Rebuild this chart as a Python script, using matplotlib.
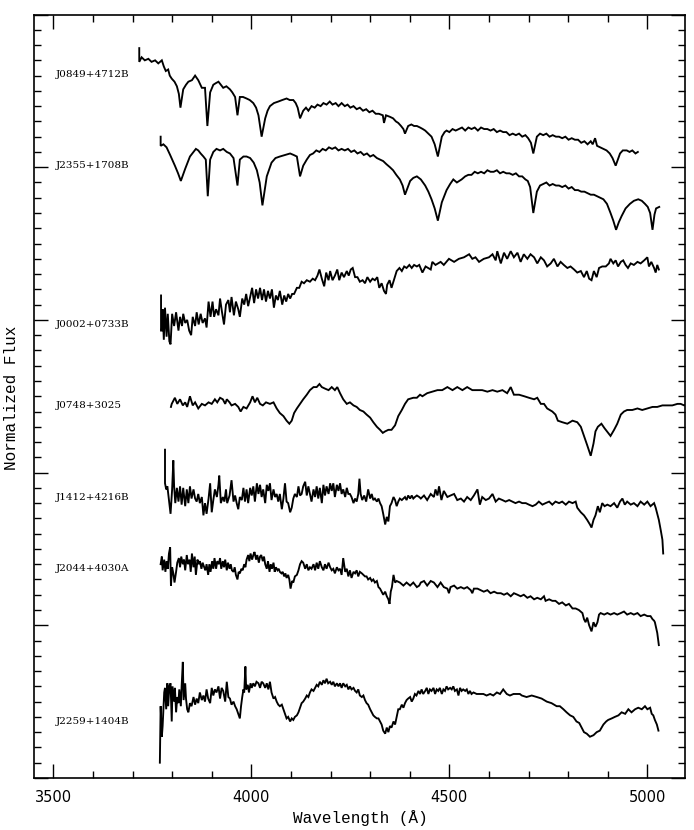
import numpy as np
import matplotlib
matplotlib.use("Agg")
import matplotlib.pyplot as plt
from matplotlib.ticker import MultipleLocator

# ---------------- data: (wavelength [A], normalized flux + offset) ----------------
names = ["J0849+4712B", "J2355+1708B", "J0002+0733B", "J0748+3025",
         "J1412+4216B", "J2044+4030A", "J2259+1404B"]
label_y = [4.61, 4.01, 2.97, 2.44, 1.84, 1.37, 0.37]

j0849 = [(3717,4.78),(3717,4.69),(3723,4.72),(3731,4.70),(3740,4.71),(3748,4.69),(3757,4.70),(3765,4.68),
         (3774,4.70),(3779,4.66),(3784,4.63),(3790,4.64),(3794,4.60),(3799,4.58),(3806,4.56),(3812,4.53),
         (3817,4.48),(3821,4.39),(3828,4.51),(3835,4.54),(3841,4.56),(3850,4.57),(3858,4.60),(3866,4.57),
         (3875,4.52),(3883,4.52),(3889,4.27),(3896,4.49),(3904,4.54),(3910,4.55),(3917,4.56),(3923,4.54),
         (3929,4.52),(3937,4.53),(3946,4.51),(3952,4.49),(3959,4.46),(3965,4.34),(3971,4.46),(3979,4.46),
         (3988,4.45),(3996,4.44),(4005,4.42),(4012,4.39),(4018,4.34),(4026,4.20),(4035,4.32),(4041,4.37),
         (4047,4.40),(4057,4.42),(4068,4.43),(4078,4.44),(4089,4.45),(4097,4.44),(4106,4.44),(4112,4.42),
         (4117,4.39),(4123,4.32),(4131,4.37),(4138,4.39),(4144,4.37),(4152,4.40),(4160,4.39),(4167,4.41),
         (4175,4.40),(4182,4.42),(4190,4.41),(4198,4.43),(4205,4.41),(4213,4.42),(4220,4.40),(4228,4.42),
         (4236,4.40),(4243,4.41),(4250,4.39),(4258,4.40),(4266,4.38),(4274,4.39),(4282,4.37),(4290,4.38),
         (4298,4.36),(4306,4.37),(4314,4.35),(4322,4.35),(4332,4.34),(4335,4.29),(4340,4.34),(4350,4.33),
         (4358,4.32),(4365,4.30),(4371,4.29),(4378,4.27),(4384,4.25),(4388,4.22),(4396,4.27),(4404,4.28),
         (4411,4.27),(4418,4.27),(4426,4.26),(4433,4.25),(4439,4.24),(4447,4.22),(4455,4.20),(4463,4.15),
         (4471,4.07),(4481,4.20),(4488,4.23),(4493,4.24),(4500,4.23),(4508,4.25),(4516,4.24),(4524,4.25),
         (4532,4.26),(4540,4.24),(4548,4.26),(4556,4.25),(4564,4.26),(4572,4.24),(4580,4.26),(4588,4.25),
         (4596,4.25),(4604,4.24),(4612,4.25),(4620,4.23),(4628,4.24),(4636,4.23),(4644,4.23),(4652,4.21),
         (4660,4.22),(4668,4.21),(4676,4.22),(4684,4.20),(4692,4.21),(4699,4.19),(4706,4.16),(4712,4.09),
         (4721,4.20),(4729,4.22),(4737,4.21),(4745,4.22),(4753,4.20),(4761,4.21),(4769,4.20),(4777,4.20),
         (4785,4.19),(4793,4.20),(4801,4.18),(4809,4.19),(4817,4.18),(4825,4.18),(4833,4.16),(4841,4.17),
         (4849,4.15),(4857,4.17),(4862,4.15),(4868,4.19),(4873,4.14),(4881,4.13),(4889,4.12),(4897,4.11),
         (4905,4.09),(4912,4.06),(4920,4.01),(4931,4.09),(4938,4.11),(4948,4.11),(4955,4.10),(4962,4.11),
         (4970,4.09),(4976,4.10)]

j2355 = [(3771,4.20),(3771,4.14),(3778,4.15),(3786,4.13),(3795,4.08),(3807,4.01),(3815,3.96),(3822,3.91),
         (3833,3.99),(3845,4.07),(3854,4.10),(3860,4.12),(3866,4.11),(3872,4.09),(3879,4.07),(3885,4.05),
         (3890,3.81),(3896,4.05),(3904,4.10),(3912,4.12),(3921,4.11),(3929,4.12),(3938,4.10),(3946,4.09),
         (3955,4.06),(3965,3.88),(3971,4.05),(3980,4.07),(3988,4.07),(3997,4.06),(4006,4.03),(4014,3.98),
         (4021,3.90),(4028,3.75),(4039,3.94),(4051,4.03),(4061,4.06),(4072,4.07),(4085,4.08),(4098,4.09),
         (4107,4.08),(4115,4.07),(4123,3.94),(4131,4.01),(4140,4.05),(4148,4.08),(4156,4.09),(4164,4.11),
         (4172,4.10),(4180,4.12),(4188,4.11),(4196,4.13),(4204,4.12),(4212,4.13),(4220,4.11),(4228,4.12),
         (4236,4.11),(4244,4.12),(4252,4.10),(4260,4.11),(4268,4.09),(4276,4.10),(4284,4.08),(4292,4.09),
         (4300,4.07),(4308,4.08),(4317,4.06),(4325,4.05),(4333,4.04),(4341,4.02),(4350,4.00),(4358,3.98),
         (4366,3.95),(4375,3.92),(4382,3.88),(4388,3.82),(4401,3.91),(4409,3.93),(4418,3.94),(4428,3.92),
         (4439,3.88),(4447,3.84),(4455,3.79),(4463,3.73),(4471,3.65),(4481,3.77),(4493,3.85),(4502,3.89),
         (4510,3.92),(4519,3.90),(4531,3.92),(4540,3.94),(4548,3.95),(4556,3.95),(4564,3.97),(4572,3.96),
         (4580,3.97),(4588,3.96),(4596,3.98),(4604,3.97),(4612,3.97),(4620,3.98),(4628,3.96),(4636,3.97),
         (4644,3.96),(4652,3.96),(4660,3.95),(4668,3.96),(4676,3.94),(4684,3.94),(4692,3.92),(4698,3.91),
         (4704,3.87),(4712,3.70),(4721,3.84),(4729,3.88),(4737,3.89),(4745,3.90),(4753,3.88),(4761,3.89),
         (4769,3.88),(4777,3.88),(4785,3.87),(4793,3.88),(4801,3.86),(4809,3.87),(4817,3.85),(4825,3.85),
         (4833,3.84),(4841,3.84),(4849,3.83),(4857,3.82),(4865,3.82),(4873,3.81),(4881,3.80),(4889,3.79),
         (4898,3.76),(4907,3.70),(4914,3.65),(4921,3.59),(4928,3.64),(4935,3.68),(4945,3.73),(4956,3.76),
         (4966,3.78),(4977,3.79),(4986,3.78),(4994,3.76),(5001,3.74),(5007,3.70),(5013,3.59),(5018,3.69),
         (5022,3.73),(5030,3.74)]

j0002 = [(3772,3.16),(3772,2.93),(3774,2.93),(3776,3.07),(3779,2.87),(3782,3.08),(3786,2.89),(3789,3.04),
         (3793,2.86),(3796,2.84),(3800,3.04),(3805,2.96),(3810,3.05),(3816,2.93),(3820,3.02),(3825,2.96),
         (3828,3.04),(3833,2.98),(3838,3.00),(3843,2.93),(3848,2.90),(3852,3.02),(3858,2.96),(3862,3.05),
         (3867,2.97),(3872,3.04),(3877,2.98),(3883,3.01),(3887,2.95),(3892,3.12),(3897,3.02),(3902,3.12),
         (3906,3.02),(3911,3.07),(3917,3.03),(3921,3.14),(3926,3.05),(3931,2.97),(3936,3.10),(3942,3.13),
         (3946,3.05),(3950,3.15),(3956,3.03),(3961,3.12),(3967,3.07),(3971,3.02),(3977,3.14),(3982,3.10),
         (3987,3.17),(3992,3.09),(3997,3.15),(4002,3.21),(4007,3.11),(4012,3.20),(4017,3.14),(4022,3.21),
         (4027,3.13),(4032,3.20),(4037,3.12),(4042,3.19),(4047,3.14),(4052,3.20),(4057,3.08),(4062,3.16),
         (4067,3.13),(4072,3.19),(4078,3.10),(4083,3.16),(4088,3.12),(4093,3.17),(4098,3.14),(4103,3.17),
         (4108,3.17),(4115,3.21),(4121,3.21),(4127,3.25),(4133,3.24),(4140,3.26),(4148,3.25),(4155,3.27),
         (4161,3.26),(4167,3.29),(4172,3.33),(4178,3.27),(4184,3.22),(4189,3.31),(4195,3.26),(4199,3.32),
         (4205,3.26),(4211,3.29),(4217,3.33),(4222,3.26),(4228,3.31),(4234,3.28),(4241,3.32),(4246,3.29),
         (4251,3.33),(4256,3.34),(4262,3.28),(4268,3.28),(4274,3.25),(4281,3.26),(4287,3.24),(4293,3.28),
         (4300,3.25),(4306,3.27),(4312,3.26),(4318,3.28),(4323,3.21),(4329,3.24),(4335,3.19),(4340,3.17),
         (4343,3.23),(4349,3.26),(4354,3.21),(4360,3.26),(4367,3.32),(4374,3.34),(4380,3.32),(4386,3.35),
         (4392,3.34),(4399,3.36),(4405,3.34),(4411,3.36),(4418,3.35),(4424,3.36),(4432,3.31),(4440,3.35),
         (4453,3.33),(4457,3.38),(4465,3.36),(4478,3.38),(4486,3.36),(4499,3.40),(4512,3.38),(4524,3.40),
         (4537,3.41),(4550,3.43),(4558,3.40),(4566,3.41),(4575,3.38),(4587,3.40),(4600,3.41),(4609,3.43),
         (4617,3.39),(4621,3.45),(4630,3.37),(4638,3.44),(4646,3.40),(4655,3.45),(4663,3.41),(4672,3.44),
         (4680,3.38),(4688,3.43),(4697,3.40),(4705,3.43),(4714,3.41),(4722,3.37),(4731,3.41),(4739,3.39),
         (4747,3.35),(4756,3.37),(4764,3.40),(4773,3.35),(4781,3.38),(4789,3.36),(4798,3.34),(4806,3.35),
         (4815,3.33),(4823,3.31),(4832,3.32),(4840,3.28),(4847,3.32),(4853,3.27),(4859,3.26),(4865,3.32),
         (4872,3.28),(4878,3.34),(4886,3.35),(4895,3.35),(4903,3.37),(4907,3.40),(4914,3.37),(4920,3.39),
         (4926,3.35),(4933,3.38),(4939,3.39),(4945,3.36),(4951,3.34),(4958,3.37),(4966,3.36),(4975,3.38),
         (4983,3.37),(4992,3.39),(5000,3.41),(5004,3.35),(5010,3.38),(5017,3.34),(5021,3.31),(5025,3.36),
         (5029,3.33)]

j0748 = [(3797,2.43),(3799,2.45),(3807,2.49),(3813,2.45),(3820,2.48),(3827,2.44),(3833,2.46),(3838,2.43),
         (3845,2.50),(3852,2.44),(3858,2.46),(3866,2.42),(3875,2.45),(3883,2.44),(3892,2.46),(3900,2.45),
         (3908,2.48),(3914,2.46),(3921,2.49),(3928,2.48),(3934,2.45),(3938,2.48),(3945,2.46),(3950,2.44),
         (3959,2.45),(3967,2.43),(3973,2.40),(3980,2.43),(3988,2.42),(3997,2.46),(4003,2.50),(4009,2.46),
         (4015,2.49),(4022,2.45),(4029,2.44),(4037,2.46),(4047,2.45),(4056,2.46),(4064,2.42),(4072,2.39),
         (4081,2.37),(4089,2.34),(4096,2.32),(4102,2.34),(4108,2.39),(4115,2.42),(4123,2.45),(4131,2.48),
         (4140,2.51),(4148,2.54),(4157,2.56),(4165,2.56),(4172,2.58),(4178,2.56),(4186,2.55),(4195,2.54),
         (4203,2.56),(4211,2.54),(4217,2.56),(4224,2.52),(4232,2.48),(4241,2.45),(4249,2.46),(4258,2.44),
         (4266,2.43),(4274,2.41),(4283,2.40),(4291,2.38),(4300,2.36),(4308,2.33),(4317,2.30),(4325,2.28),
         (4332,2.26),(4338,2.27),(4346,2.28),(4354,2.28),(4363,2.31),(4371,2.37),(4380,2.41),(4388,2.45),
         (4396,2.48),(4409,2.49),(4418,2.49),(4426,2.51),(4432,2.50),(4444,2.52),(4457,2.53),(4470,2.54),
         (4482,2.54),(4495,2.56),(4508,2.54),(4520,2.56),(4533,2.54),(4545,2.56),(4558,2.54),(4571,2.54),
         (4583,2.54),(4596,2.53),(4609,2.54),(4621,2.53),(4634,2.54),(4646,2.52),(4655,2.56),(4663,2.51),
         (4676,2.51),(4689,2.50),(4701,2.49),(4714,2.48),(4722,2.49),(4731,2.45),(4739,2.45),(4747,2.42),
         (4760,2.40),(4768,2.38),(4774,2.34),(4785,2.33),(4798,2.32),(4811,2.34),(4823,2.33),(4832,2.30),
         (4840,2.24),(4848,2.18),(4857,2.11),(4864,2.19),(4869,2.27),(4875,2.30),(4884,2.32),(4892,2.29),
         (4901,2.26),(4907,2.24),(4916,2.28),(4924,2.32),(4933,2.38),(4941,2.40),(4949,2.41),(4962,2.41),
         (4975,2.42),(4987,2.41),(5000,2.42),(5013,2.43),(5025,2.43),(5038,2.44),(5050,2.44),(5063,2.44),
         (5076,2.45),(5084,2.45),(5093,2.44),(5100,2.45)]

j1412 = [(3782,2.15),(3782,1.93),(3785,1.89),(3788,1.91),(3793,1.80),(3796,1.73),(3800,1.89),(3803,2.08),
         (3805,1.91),(3808,1.80),(3812,1.90),(3816,1.81),(3820,1.91),(3824,1.79),(3828,1.90),(3833,1.78),
         (3837,1.89),(3841,1.80),(3845,1.91),(3849,1.83),(3854,1.89),(3858,1.83),(3862,1.81),(3866,1.86),
         (3870,1.80),(3875,1.84),(3879,1.72),(3883,1.80),(3887,1.73),(3892,1.83),(3896,1.93),(3900,1.74),
         (3904,1.82),(3908,1.89),(3913,1.84),(3917,1.92),(3919,1.98),(3923,1.80),(3928,1.84),(3932,1.81),
         (3936,1.89),(3939,1.80),(3945,1.85),(3950,1.95),(3955,1.81),(3959,1.85),(3963,1.80),(3967,1.76),
         (3971,1.84),(3976,1.82),(3980,1.90),(3984,1.81),(3988,1.89),(3992,1.80),(3997,1.90),(4001,1.85),
         (4005,1.91),(4009,1.81),(4014,1.93),(4018,1.86),(4022,1.92),(4026,1.84),(4030,1.89),(4035,1.80),
         (4039,1.92),(4043,1.88),(4047,1.93),(4051,1.82),(4056,1.89),(4060,1.84),(4064,1.86),(4068,1.81),
         (4072,1.86),(4077,1.76),(4081,1.83),(4085,1.93),(4089,1.81),(4093,1.80),(4098,1.74),(4102,1.77),
         (4106,1.83),(4110,1.86),(4115,1.84),(4119,1.91),(4123,1.85),(4127,1.86),(4131,1.91),(4136,1.94),
         (4140,1.85),(4144,1.91),(4148,1.86),(4152,1.81),(4157,1.89),(4161,1.84),(4165,1.91),(4169,1.83),
         (4173,1.90),(4178,1.80),(4182,1.92),(4186,1.85),(4190,1.91),(4195,1.86),(4199,1.93),(4203,1.88),
         (4207,1.93),(4211,1.84),(4216,1.92),(4220,1.88),(4224,1.93),(4228,1.86),(4232,1.89),(4237,1.84),
         (4241,1.90),(4245,1.86),(4249,1.86),(4253,1.84),(4258,1.80),(4262,1.83),(4266,1.81),(4270,1.86),
         (4273,1.96),(4276,1.86),(4280,1.82),(4285,1.85),(4290,1.81),(4295,1.89),(4300,1.83),(4304,1.86),
         (4308,1.82),(4312,1.83),(4317,1.81),(4321,1.83),(4325,1.80),(4329,1.78),(4333,1.73),(4338,1.66),
         (4342,1.71),(4346,1.68),(4350,1.78),(4354,1.80),(4359,1.84),(4363,1.82),(4367,1.78),(4371,1.81),
         (4375,1.83),(4380,1.82),(4384,1.83),(4388,1.84),(4392,1.82),(4396,1.85),(4401,1.83),(4405,1.85),
         (4409,1.83),(4413,1.84),(4418,1.85),(4424,1.84),(4428,1.83),(4436,1.85),(4444,1.82),(4453,1.86),
         (4461,1.84),(4465,1.89),(4470,1.85),(4474,1.91),(4480,1.82),(4486,1.88),(4495,1.84),(4503,1.85),
         (4512,1.86),(4520,1.82),(4529,1.83),(4537,1.81),(4545,1.84),(4554,1.82),(4562,1.85),(4571,1.89),
         (4577,1.79),(4583,1.84),(4592,1.82),(4600,1.83),(4609,1.86),(4617,1.81),(4625,1.83),(4634,1.82),
         (4642,1.81),(4651,1.82),(4659,1.81),(4667,1.80),(4676,1.81),(4684,1.80),(4693,1.80),(4701,1.79),
         (4710,1.78),(4718,1.79),(4726,1.81),(4735,1.79),(4743,1.80),(4752,1.81),(4760,1.79),(4768,1.81),
         (4777,1.80),(4785,1.81),(4794,1.79),(4802,1.81),(4811,1.80),(4819,1.81),(4823,1.77),(4832,1.74),
         (4840,1.72),(4848,1.69),(4855,1.66),(4859,1.64),(4864,1.69),(4869,1.72),(4875,1.78),(4880,1.74),
         (4886,1.80),(4892,1.78),(4899,1.79),(4907,1.78),(4916,1.80),(4924,1.77),(4931,1.81),(4937,1.83),
         (4943,1.79),(4949,1.81),(4958,1.79),(4966,1.80),(4975,1.78),(4983,1.81),(4992,1.79),(5000,1.81),
         (5008,1.78),(5017,1.80),(5021,1.77),(5025,1.73),(5029,1.69),(5034,1.62),(5038,1.56),(5040,1.47)]

j2044 = [(3771,1.40),(3774,1.45),(3776,1.36),(3780,1.43),(3783,1.35),(3786,1.42),(3789,1.37),(3792,1.47),
         (3795,1.51),(3797,1.26),(3800,1.38),(3803,1.34),(3806,1.28),(3810,1.35),(3813,1.41),(3817,1.44),
         (3820,1.38),(3823,1.45),(3827,1.40),(3830,1.43),(3833,1.36),(3837,1.46),(3840,1.40),(3844,1.43),
         (3847,1.35),(3850,1.47),(3854,1.38),(3857,1.45),(3860,1.33),(3864,1.43),(3867,1.40),(3870,1.42),
         (3874,1.37),(3877,1.41),(3881,1.38),(3884,1.36),(3887,1.40),(3891,1.33),(3894,1.40),(3897,1.35),
         (3901,1.42),(3904,1.37),(3907,1.44),(3911,1.37),(3914,1.42),(3918,1.40),(3921,1.44),(3924,1.37),
         (3928,1.42),(3931,1.38),(3934,1.43),(3938,1.36),(3941,1.41),(3945,1.37),(3948,1.40),(3951,1.36),
         (3955,1.35),(3958,1.38),(3961,1.33),(3965,1.30),(3968,1.35),(3971,1.34),(3975,1.37),(3978,1.36),
         (3982,1.40),(3985,1.38),(3988,1.43),(3992,1.46),(3995,1.42),(3998,1.47),(4002,1.43),(4005,1.46),
         (4008,1.48),(4012,1.43),(4015,1.46),(4019,1.41),(4022,1.45),(4025,1.46),(4029,1.42),(4032,1.45),
         (4035,1.40),(4039,1.37),(4042,1.42),(4046,1.35),(4049,1.40),(4052,1.37),(4056,1.41),(4059,1.35),
         (4062,1.38),(4066,1.36),(4069,1.37),(4072,1.35),(4076,1.34),(4079,1.35),(4083,1.32),(4086,1.34),
         (4089,1.31),(4093,1.33),(4096,1.30),(4099,1.24),(4103,1.29),(4106,1.28),(4110,1.32),(4115,1.33),
         (4119,1.36),(4123,1.40),(4127,1.42),(4131,1.41),(4136,1.37),(4140,1.40),(4144,1.36),(4148,1.38),
         (4152,1.37),(4157,1.40),(4161,1.36),(4165,1.41),(4169,1.37),(4173,1.42),(4178,1.38),(4182,1.36),
         (4186,1.40),(4190,1.37),(4195,1.41),(4199,1.38),(4203,1.36),(4207,1.37),(4211,1.34),(4216,1.38),
         (4220,1.36),(4224,1.37),(4228,1.33),(4232,1.44),(4237,1.35),(4241,1.37),(4245,1.32),(4249,1.36),
         (4253,1.31),(4258,1.35),(4262,1.34),(4266,1.36),(4270,1.32),(4274,1.35),(4279,1.34),(4283,1.33),
         (4287,1.32),(4291,1.32),(4295,1.30),(4300,1.31),(4304,1.29),(4308,1.30),(4312,1.28),(4317,1.29),
         (4321,1.25),(4325,1.24),(4329,1.22),(4333,1.20),(4338,1.22),(4342,1.19),(4346,1.17),(4349,1.14),
         (4352,1.22),(4355,1.25),(4359,1.33),(4363,1.28),(4367,1.29),(4375,1.28),(4384,1.26),(4392,1.28),
         (4401,1.26),(4409,1.28),(4418,1.25),(4424,1.26),(4428,1.28),(4436,1.29),(4444,1.26),(4453,1.29),
         (4461,1.28),(4470,1.25),(4478,1.28),(4486,1.25),(4495,1.24),(4499,1.21),(4503,1.25),(4512,1.26),
         (4520,1.24),(4529,1.25),(4537,1.24),(4545,1.25),(4554,1.23),(4558,1.21),(4562,1.24),(4571,1.24),
         (4579,1.23),(4587,1.22),(4596,1.23),(4604,1.21),(4613,1.22),(4621,1.21),(4630,1.21),(4638,1.20),
         (4646,1.21),(4655,1.19),(4663,1.21),(4672,1.20),(4680,1.19),(4688,1.20),(4697,1.18),(4705,1.19),
         (4714,1.17),(4722,1.18),(4731,1.17),(4739,1.19),(4743,1.16),(4752,1.17),(4760,1.16),(4768,1.16),
         (4777,1.14),(4785,1.15),(4794,1.13),(4802,1.14),(4811,1.11),(4819,1.11),(4827,1.10),(4836,1.08),
         (4840,1.04),(4844,1.02),(4848,1.05),(4853,1.00),(4859,0.96),(4864,1.02),(4869,0.99),(4874,1.02),
         (4878,1.07),(4882,1.08),(4891,1.07),(4899,1.08),(4907,1.07),(4916,1.08),(4924,1.07),(4933,1.08),
         (4941,1.09),(4949,1.07),(4958,1.08),(4966,1.07),(4975,1.08),(4983,1.06),(4992,1.07),(5000,1.06),
         (5008,1.06),(5013,1.04),(5017,1.03),(5019,1.02),(5025,0.95),(5029,0.87)]

j2259 = [(3769,0.10),(3771,0.47),(3774,0.27),(3776,0.34),(3780,0.56),(3782,0.59),(3785,0.45),(3788,0.62),
         (3790,0.47),(3793,0.60),(3796,0.62),(3799,0.37),(3801,0.60),(3805,0.50),(3807,0.59),(3810,0.43),
         (3813,0.53),(3816,0.49),(3818,0.58),(3822,0.47),(3824,0.60),(3827,0.76),(3829,0.51),(3833,0.62),
         (3835,0.52),(3838,0.45),(3841,0.43),(3845,0.49),(3849,0.47),(3854,0.53),(3858,0.48),(3862,0.52),
         (3866,0.49),(3870,0.56),(3875,0.51),(3879,0.54),(3883,0.50),(3887,0.58),(3891,0.52),(3896,0.49),
         (3900,0.59),(3904,0.54),(3908,0.58),(3912,0.56),(3917,0.60),(3921,0.52),(3925,0.59),(3929,0.57),
         (3934,0.50),(3938,0.63),(3942,0.53),(3946,0.52),(3950,0.48),(3955,0.50),(3959,0.47),(3963,0.45),
         (3967,0.42),(3971,0.39),(3974,0.47),(3977,0.53),(3980,0.58),(3982,0.56),(3985,0.73),(3987,0.58),
         (3991,0.61),(3994,0.56),(3998,0.62),(4001,0.59),(4005,0.62),(4009,0.60),(4013,0.63),(4018,0.62),
         (4022,0.59),(4026,0.63),(4030,0.62),(4035,0.59),(4039,0.62),(4043,0.58),(4047,0.63),(4051,0.56),
         (4056,0.52),(4060,0.53),(4064,0.50),(4068,0.48),(4072,0.47),(4077,0.48),(4081,0.45),(4085,0.42),
         (4089,0.39),(4093,0.40),(4098,0.37),(4102,0.39),(4106,0.38),(4110,0.40),(4115,0.41),(4119,0.43),
         (4123,0.46),(4127,0.49),(4131,0.50),(4136,0.52),(4140,0.54),(4144,0.53),(4148,0.56),(4152,0.58),
         (4157,0.57),(4161,0.59),(4165,0.61),(4169,0.60),(4173,0.63),(4178,0.61),(4182,0.64),(4186,0.62),
         (4190,0.65),(4194,0.62),(4199,0.63),(4203,0.61),(4207,0.63),(4211,0.60),(4216,0.62),(4220,0.60),
         (4224,0.62),(4228,0.59),(4232,0.62),(4237,0.60),(4241,0.61),(4245,0.58),(4249,0.60),(4253,0.58),
         (4258,0.59),(4262,0.57),(4266,0.56),(4270,0.58),(4274,0.54),(4279,0.53),(4283,0.54),(4287,0.51),
         (4291,0.49),(4295,0.48),(4300,0.45),(4304,0.43),(4308,0.41),(4312,0.40),(4317,0.39),(4321,0.39),
         (4325,0.37),(4329,0.35),(4333,0.31),(4338,0.29),(4342,0.33),(4346,0.30),(4350,0.34),(4354,0.33),
         (4359,0.37),(4363,0.35),(4367,0.40),(4371,0.45),(4375,0.45),(4380,0.48),(4384,0.46),(4388,0.49),
         (4392,0.51),(4396,0.52),(4401,0.53),(4405,0.50),(4409,0.52),(4413,0.55),(4417,0.54),(4422,0.57),
         (4426,0.55),(4430,0.58),(4434,0.55),(4439,0.57),(4443,0.59),(4447,0.55),(4451,0.58),(4455,0.57),
         (4460,0.59),(4464,0.55),(4468,0.58),(4472,0.57),(4476,0.59),(4481,0.55),(4485,0.58),(4489,0.57),
         (4493,0.60),(4497,0.58),(4502,0.59),(4506,0.58),(4510,0.60),(4514,0.57),(4519,0.58),(4523,0.54),
         (4527,0.59),(4531,0.57),(4535,0.58),(4540,0.57),(4544,0.58),(4548,0.55),(4552,0.57),(4556,0.55),
         (4561,0.56),(4569,0.55),(4577,0.55),(4586,0.55),(4594,0.54),(4603,0.55),(4611,0.54),(4620,0.56),
         (4628,0.55),(4636,0.58),(4645,0.55),(4653,0.54),(4662,0.55),(4670,0.55),(4678,0.55),(4683,0.54),
         (4695,0.53),(4708,0.54),(4721,0.53),(4733,0.52),(4746,0.50),(4758,0.49),(4771,0.47),(4779,0.47),
         (4788,0.45),(4796,0.43),(4805,0.41),(4813,0.40),(4821,0.37),(4828,0.36),(4834,0.33),(4840,0.30),
         (4847,0.29),(4855,0.27),(4864,0.28),(4872,0.30),(4880,0.31),(4889,0.35),(4896,0.37),(4901,0.38),
         (4910,0.39),(4918,0.40),(4927,0.41),(4935,0.43),(4944,0.42),(4952,0.45),(4960,0.43),(4969,0.45),
         (4977,0.46),(4986,0.45),(4994,0.47),(5000,0.45),(5007,0.46),(5011,0.42),(5015,0.41),(5019,0.38),
         (5024,0.35),(5028,0.31)]

spectra = [j0849, j2355, j0002, j0748, j1412, j2044, j2259]

x_ticks = [3500, 4000, 4500, 5000]
x_range = (3450, 5095)
y_range = (0, 5)

# ---------------- figure ----------------
fig = plt.figure(figsize=(6.94, 8.30), dpi=100)
ax = fig.add_axes([0.0483, 0.0627, 0.9387, 0.9198])

for spec in spectra:
    arr = np.array(spec, dtype=float)
    ax.plot(arr[:, 0], arr[:, 1], color="black", lw=1.35, solid_joinstyle="miter")

for name, ly in zip(names, label_y):
    ax.text(3506, ly, name, ha="left", va="center", fontsize=7.5,
            family="DejaVu Serif", color="black")

ax.set_xlim(*x_range)
ax.set_ylim(*y_range)
ax.set_xticks(x_ticks)
ax.xaxis.set_minor_locator(MultipleLocator(100))
ax.yaxis.set_major_locator(MultipleLocator(1))
ax.yaxis.set_minor_locator(MultipleLocator(0.1))
ax.set_yticklabels([])
ax.tick_params(which="both", direction="in", top=True, right=True, width=1.0, color="black")
ax.tick_params(which="major", length=10)
ax.tick_params(which="minor", length=5)
ax.tick_params(axis="x", which="major", labelsize=10.5, pad=9)
for lab in ax.get_xticklabels():
    lab.set_family("DejaVu Sans")
for s in ax.spines.values():
    s.set_linewidth(1.2)

fig.text(360 / 694, 1 - 818 / 830, "Wavelength (Å)", ha="center", va="center",
         fontsize=11.5, family="Liberation Mono")
fig.text(12 / 694, 1 - 398 / 830, "Normalized Flux", ha="center", va="center",
         rotation=90, fontsize=11.5, family="Liberation Mono")

fig.savefig("out.png", dpi=100)
